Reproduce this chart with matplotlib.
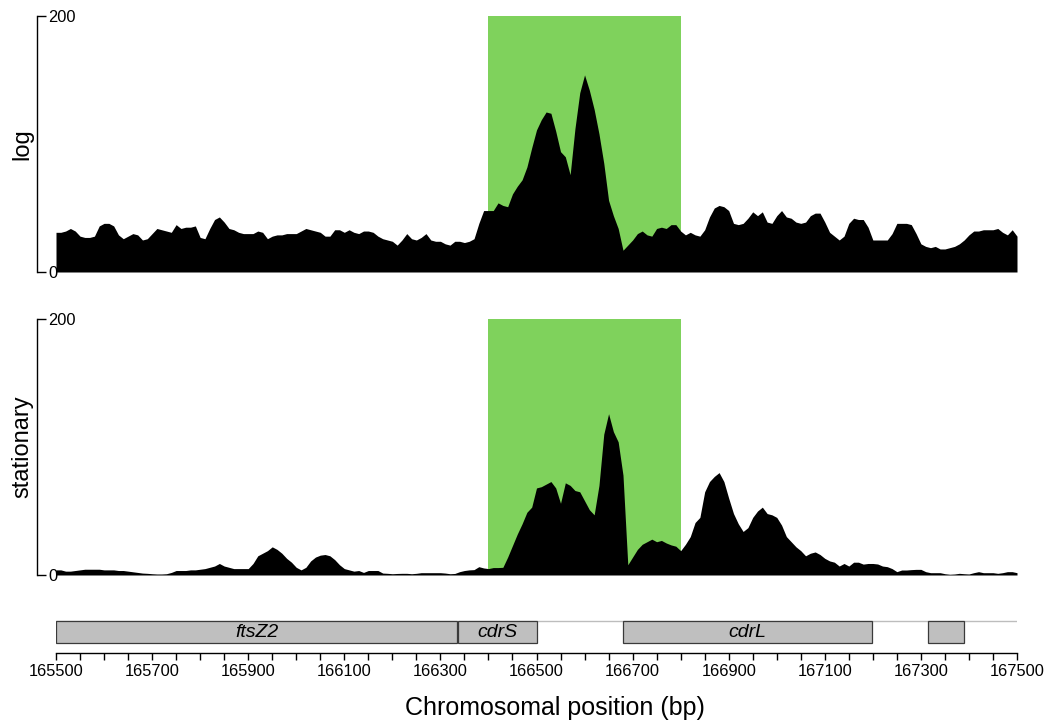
import numpy as np
import matplotlib
matplotlib.use("Agg")
import matplotlib.pyplot as plt
from matplotlib.patches import Rectangle

plt.rcParams['font.family'] = ['Liberation Sans', 'DejaVu Sans']

# ---- data -------------------------------------------------------------
start_bp, end_bp, step_bp = 165500, 167500, 10
positions = np.arange(start_bp, end_bp + 1, step_bp)

# read depth, exponential phase ("log")
log_cov = [
    31, 31, 32, 34, 32, 28, 27, 27, 28, 36,
    38, 38, 36, 29, 26, 28, 30, 29, 25, 26,
    30, 34, 33, 32, 31, 37, 34, 35, 35, 36,
    27, 26, 34, 41, 43, 39, 34, 33, 31, 30,
    30, 30, 32, 31, 26, 28, 29, 29, 30, 30,
    30, 32, 34, 33, 32, 31, 28, 28, 33, 33,
    31, 33, 31, 30, 32, 32, 31, 28,
    26, 25, 24, 21, 25, 30, 26, 25, 27, 30,
    25, 24, 24, 22, 21, 24, 24, 23, 24, 26,
    38, 48, 48, 48, 54, 52, 51, 61, 67, 72,
    82, 97, 111, 119, 125, 124, 110, 94, 90, 76,
    112, 140, 154, 142, 127, 108, 85, 56, 44, 34,
    17, 21, 25, 30, 32, 29, 28, 34, 35, 34,
    37, 37, 32, 29, 31, 29, 28,
    33, 43, 50, 52, 51, 48, 38, 37, 38, 42,
    47, 44, 47, 39, 38, 44, 48, 43, 42, 39,
    38, 39, 44, 46, 46, 39, 31, 28, 25, 28,
    38, 42, 41, 41, 35, 25, 25, 25, 25, 30,
    38, 38, 38, 37, 30, 22, 20, 19, 20, 18,
    18, 19, 20, 22, 25, 29, 32, 32, 33, 33,
    33, 34, 31, 29, 33, 28,
]

# read depth, stationary phase
stat_cov = [
    4, 4, 3, 3, 3.5, 4, 4.5, 4.5, 4.5, 4.5,
    4, 4, 4, 3.5, 3.5, 3, 2.5, 2, 1.5, 1.3,
    1, 0.8, 0.8, 1, 2, 3.5, 3.5, 3.5, 4, 4,
    4.5, 5, 6, 7, 9, 7, 6, 5, 5, 5,
    5, 9, 15, 17, 19, 22, 20, 17, 13, 10,
    6, 4, 6, 11, 14, 15.5, 16, 15, 12, 8,
    5, 4, 3, 3.5, 2, 3.5, 3.5, 3.5,
    1.5, 1.3, 1, 1.2, 1.3, 1.3, 1, 1.3, 1.8, 1.8,
    1.8, 1.8, 1.8, 1.5, 1, 1.2, 2.6, 3.5, 4, 4.2,
    6.5, 5.5, 5, 5.8, 5.8, 6, 14, 23, 32, 40,
    49, 53, 68, 69, 71, 73, 68, 56, 72, 70,
    66, 65, 58, 51, 47, 70, 110, 126, 112, 104,
    78, 8, 14, 20, 24, 26, 28, 26, 27, 25,
    23.5, 22.5, 19, 24, 30, 41, 45,
    65, 73, 77, 80, 73, 60, 48, 40, 34, 37,
    45, 50, 53, 48, 47, 45, 39, 30, 26, 22,
    19, 15, 17, 18, 16, 13, 11, 10, 7, 9,
    7, 10, 10, 8.5, 9, 9, 8.6, 7, 6.5, 5,
    2.6, 3.9, 3.9, 4.2, 4.4, 4.4, 2.6, 1.8, 1.8, 1.8,
    1, 0.6, 0.8, 1.3, 1, 0.8, 1.8, 2.6, 1.8, 1.8,
    1.8, 1.3, 1.8, 2.6, 2.6, 1.8,
]

track_names = ['log', 'stationary']
highlight = (166400, 166800)
y_max = 200

gene_names = ['ftsZ2', 'cdrS', 'cdrL', '']
gene_starts = [165500, 166337, 166680, 167314]
gene_ends = [166335, 166502, 167198, 167389]

major_ticks = list(range(165500, 167501, 200))
minor_step = 50

# ---- layout -----------------------------------------------------------
W, H = 1059, 721
fig = plt.figure(figsize=(W / 100, H / 100), dpi=100)
left, width = 56 / W, 961 / W

green = '#7fd25c'
panel_axes = [
    fig.add_axes([left, 1 - 272 / H, width, 256 / H]),
    fig.add_axes([left, 1 - 575 / H, width, 256 / H]),
]

for ax, name, cov in zip(panel_axes, track_names, [log_cov, stat_cov]):
    ax.set_xlim(start_bp, end_bp)
    ax.set_ylim(0, y_max)
    ax.axvspan(*highlight, color=green, lw=0, zorder=0)
    ax.fill_between(positions, cov, 0, color='black', lw=0, zorder=2)
    for s in ('top', 'right', 'bottom'):
        ax.spines[s].set_visible(False)
    ax.spines['left'].set_position(('outward', 13.7))
    ax.spines['left'].set_bounds(0, y_max)
    ax.spines['left'].set_linewidth(1.0)
    ax.set_xticks([])
    ax.set_yticks([0, y_max])
    ax.tick_params(axis='y', direction='in', length=6.5, width=1.0,
                   labelsize=11.8, pad=-8)
    for lbl in ax.get_yticklabels():
        lbl.set_horizontalalignment('left')
    ax.set_ylabel(name, fontsize=17)
    ax.yaxis.set_label_coords(-0.024, 0.5)
    ax.patch.set_visible(False)

# ---- gene track -------------------------------------------------------
gx = fig.add_axes([left, 1 - 653 / H, width, 41 / H])
gx.set_xlim(start_bp, end_bp)
gx.set_ylim(0, 1)
box_lo, box_hi = 0.244, 0.78
gx.axhline(box_hi, color='#bdbdbd', lw=1.0, zorder=1)
for name, s, e in zip(gene_names, gene_starts, gene_ends):
    gx.add_patch(Rectangle((s, box_lo), e - s, box_hi - box_lo,
                           facecolor='#bfbfbf', edgecolor='#3a3a3a',
                           lw=0.9, zorder=2))
    if name:
        gx.text((s + e) / 2, (box_lo + box_hi) / 2, name, style='italic',
                fontsize=14, ha='center', va='center', zorder=3)
for s in ('top', 'right', 'left'):
    gx.spines[s].set_visible(False)
gx.spines['bottom'].set_linewidth(1.0)
gx.set_yticks([])
gx.set_xticks(major_ticks)
gx.set_xticklabels([str(t) for t in major_ticks])
gx.set_xticks(np.arange(start_bp, end_bp + 1, minor_step), minor=True)
gx.tick_params(axis='x', which='both', direction='out', length=5, width=1.0,
               labelsize=11.8, pad=3)
gx.set_xlabel('Chromosomal position (bp)', fontsize=18)
gx.xaxis.set_label_coords(0.519, -1.05)
gx.patch.set_visible(False)

fig.savefig('out.png', dpi=100)
